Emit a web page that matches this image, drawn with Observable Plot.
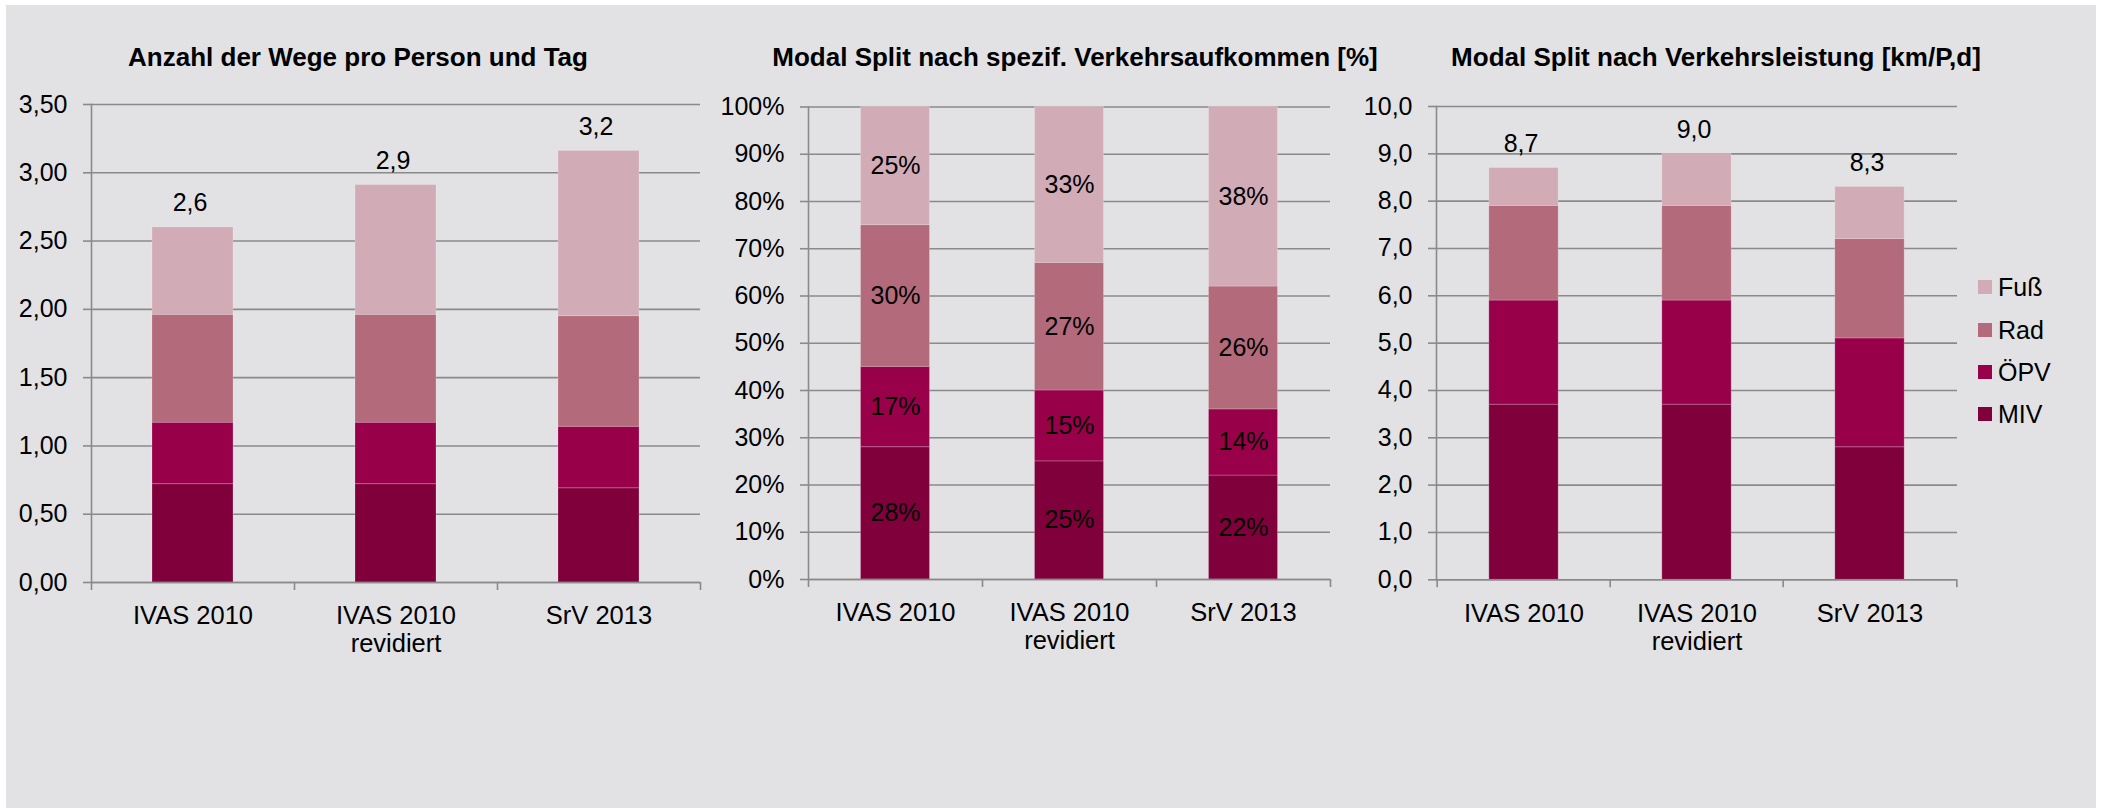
<!DOCTYPE html>
<html>
<head>
<meta charset="utf-8">
<script src="https://cdn.jsdelivr.net/npm/d3@7"></script>
<script src="https://cdn.jsdelivr.net/npm/@observablehq/plot@0.6"></script>
<style>
  html, body { margin: 0; padding: 0; background: #ffffff; }
  #panel { position: absolute; left: 6px; top: 5px; width: 2090px; height: 803px; background: #e2e2e4; }
  .title { position: absolute; top: 44px; font: bold 26px "Liberation Sans", Arial, sans-serif; line-height: 26px; color: #000; white-space: nowrap; transform: translateX(-50%); }
  .chart { position: absolute; top: 0; }
  .leg { position: absolute; left: 1978px; height: 28px; display: flex; align-items: center; font: 25px "Liberation Sans", Arial, sans-serif; color: #000; white-space: nowrap; }
  .leg span.sw { display: inline-block; width: 14px; height: 14px; margin-right: 6px; }
</style>
</head>
<body>
<div id="panel"></div>
<div id="root"></div>
<script>
// ---- data ----
const categories = ["IVAS 2010", "IVAS 2010\nrevidiert", "SrV 2013"];
const modes = ["MIV", "ÖPV", "Rad", "Fuß"];
const modeColors = ["#80003c", "#98004a", "#b36a7b", "#d1abb5"];

// Chart 1: Anzahl der Wege pro Person und Tag
const wegeMIV  = [0.72, 0.72, 0.69];
const wegeOEPV = [0.45, 0.45, 0.45];
const wegeRad  = [0.79, 0.79, 0.81];
const wegeFuss = [0.64, 0.95, 1.21];

// Chart 2: Modal Split nach spezif. Verkehrsaufkommen [%]
const anteilMIV  = [28, 25, 22];
const anteilOEPV = [17, 15, 14];
const anteilRad  = [30, 27, 26];
const anteilFuss = [25, 33, 38];

// Chart 3: Modal Split nach Verkehrsleistung [km/P,d]
const kmMIV  = [3.7, 3.7, 2.8];
const kmOEPV = [2.2, 2.2, 2.3];
const kmRad  = [2.0, 2.0, 2.1];
const kmFuss = [0.8, 1.1, 1.1];

const ticks1 = [0, 0.5, 1, 1.5, 2, 2.5, 3, 3.5];
const ticks2 = [0, 10, 20, 30, 40, 50, 60, 70, 80, 90, 100];
const ticks3 = [0, 1, 2, 3, 4, 5, 6, 7, 8, 9, 10];

const titles = [
  "Anzahl der Wege pro Person und Tag",
  "Modal Split nach spezif. Verkehrsaufkommen [%]",
  "Modal Split nach Verkehrsleistung [km/P,d]"
];

// ---- helpers ----
function toRows(series) {
  const rows = [];
  categories.forEach((cat, i) => {
    modes.forEach((mode, j) => rows.push({cat, mode, value: series[j][i]}));
  });
  return rows;
}
const comma = (digits) => (v) => v.toFixed(digits).replace(".", ",");
const gridColor = "#8a8a8a";
const FONT = "Liberation Sans, Arial, sans-serif";

function makeChart({rows, ticks, yMax, tickFormat, left, width, axisX, rightX, top, bottom, barW, totals, segLabels}) {
  const height = 700;
  const bw = (rightX - axisX) / categories.length;
  const inset = (bw - barW) / 2;
  const marks = [
    Plot.gridY(ticks, {stroke: gridColor, strokeOpacity: 1, strokeWidth: 1.6}),
    Plot.barY(rows, {x: "cat", y: "value", fill: "mode", insetLeft: inset, insetRight: inset, stroke: "#ffffff", strokeOpacity: 0.2, strokeWidth: 1}),
    Plot.frame({anchor: "left", stroke: gridColor, strokeWidth: 1.6}),
    Plot.ruleY([0], {stroke: gridColor, strokeWidth: 1.6}),
    Plot.ruleX(categories, {x: d => d, y1: 0, y2: 0, insetBottom: -8, dx: -bw / 2, stroke: gridColor, strokeWidth: 1.6}),
    Plot.ruleX(categories.slice(-1), {x: d => d, y1: 0, y2: 0, insetBottom: -8, dx: bw / 2, stroke: gridColor, strokeWidth: 1.6}),
    Plot.axisY({ticks, tickFormat, tickSize: 8, tickPadding: 16, stroke: gridColor, strokeWidth: 1.6, fill: "#000", fontSize: 25, label: null}),
    Plot.axisX({tickSize: 0, tickPadding: 22, lineHeight: 1.1, fill: "#000", fontSize: 25.5, label: null})
  ];
  if (totals) {
    marks.push(Plot.text(rows, Plot.groupX(
      {y: "sum", text: v => comma(1)(d3.sum(v))},
      {x: "cat", y: "value", text: "value", lineAnchor: "bottom", dy: -16, dx: -3, fill: "#000", fontSize: 25}
    )));
  }
  if (segLabels) {
    marks.push(Plot.text(rows, Plot.stackY({x: "cat", y: "value", z: "mode", text: d => d.value + "%", fill: "#000", fontSize: 25})));
  }
  const svg = Plot.plot({
    width, height,
    marginLeft: axisX - left,
    marginRight: left + width - rightX,
    marginTop: top,
    marginBottom: height - bottom,
    style: {background: "transparent", fontFamily: FONT, fontSize: "25px", overflow: "visible", color: "#000"},
    x: {domain: categories, padding: 0},
    y: {domain: [0, yMax]},
    color: {domain: modes, range: modeColors},
    marks
  });
  svg.classList.add("chart");
  svg.style.position = "absolute";
  svg.style.left = left + "px";
  svg.style.top = "0px";
  return svg;
}

const root = document.getElementById("root");

root.appendChild(makeChart({
  rows: toRows([wegeMIV, wegeOEPV, wegeRad, wegeFuss]),
  ticks: ticks1, yMax: 3.5, tickFormat: comma(2),
  left: 0, width: 720, axisX: 91, rightX: 700, top: 104, bottom: 582, barW: 81, totals: true
}));
root.appendChild(makeChart({
  rows: toRows([anteilMIV, anteilOEPV, anteilRad, anteilFuss]),
  ticks: ticks2, yMax: 100, tickFormat: d => d + "%",
  left: 720, width: 620, axisX: 808, rightX: 1330, top: 106.5, bottom: 579, barW: 69, segLabels: true
}));
root.appendChild(makeChart({
  rows: toRows([kmMIV, kmOEPV, kmRad, kmFuss]),
  ticks: ticks3, yMax: 10, tickFormat: comma(1),
  left: 1350, width: 620, axisX: 1436, rightX: 1957, top: 106, bottom: 579.3, barW: 70, totals: true
}));

// titles
const titleCenters = [358, 1075, 1716];
titles.forEach((t, i) => {
  const d = document.createElement("div");
  d.className = "title";
  d.style.left = titleCenters[i] + "px";
  d.textContent = t;
  root.appendChild(d);
});

// legend (Fuß on top)
const legendCenters = [287, 330, 372, 414];
modes.slice().reverse().forEach((m, k) => {
  const d = document.createElement("div");
  d.className = "leg";
  d.style.top = (legendCenters[k] - 14) + "px";
  const sw = document.createElement("span");
  sw.className = "sw";
  sw.style.background = modeColors[modes.indexOf(m)];
  d.appendChild(sw);
  d.appendChild(document.createTextNode(m));
  root.appendChild(d);
});
</script>
</body>
</html>
